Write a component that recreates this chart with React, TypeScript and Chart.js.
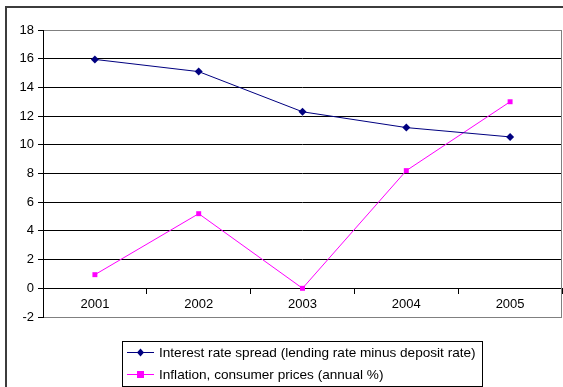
import React, { useEffect, useRef } from "react";
import { Chart, registerables } from "chart.js";

Chart.register(...registerables);

const years = ["2001", "2002", "2003", "2004", "2005"];
const spreadValues = [15.95, 15.1, 12.3, 11.2, 10.55];
const inflationValues = [0.95, 5.2, 0.0, 8.2, 13.0];
const seriesNames = [
  "Interest rate spread (lending rate minus deposit rate)",
  "Inflation, consumer prices (annual %)",
];
const yMin = -2;
const yMax = 18;
const yStep = 2;

const FONT = "Arial, 'Liberation Sans', sans-serif";

const framePlugin = {
  id: "frame",
  beforeDraw(chart: any) {
    const ctx = chart.ctx;
    ctx.save();
    ctx.fillStyle = "#fff";
    ctx.fillRect(0, 0, chart.width, chart.height);
    ctx.strokeStyle = "#3c3c3c";
    ctx.lineWidth = 2;
    ctx.beginPath();
    ctx.moveTo(6, 388);
    ctx.lineTo(6, 7);
    ctx.lineTo(chart.width + 2, 7);
    ctx.stroke();
    ctx.restore();
  },
  afterDraw(chart: any) {
    const ctx = chart.ctx;
    const a = chart.chartArea;
    ctx.save();
    ctx.strokeStyle = "#808080";
    ctx.lineWidth = 1;
    ctx.beginPath();
    ctx.moveTo(a.left, Math.round(a.top) + 0.5);
    ctx.lineTo(Math.round(a.right) - 0.5, Math.round(a.top) + 0.5);
    ctx.lineTo(Math.round(a.right) - 0.5, Math.round(a.bottom) + 0.5);
    ctx.lineTo(a.left, Math.round(a.bottom) + 0.5);
    ctx.stroke();
    ctx.strokeStyle = "#000";
    ctx.beginPath();
    ctx.moveTo(Math.round(a.left) + 0.5, a.top);
    ctx.lineTo(Math.round(a.left) + 0.5, a.bottom + 1);
    ctx.stroke();

    const lx = 122, ly = 341, lw = 360, lh = 45;
    ctx.strokeStyle = "#000";
    ctx.strokeRect(lx + 0.5, ly + 0.5, lw, lh);
    const rows = [
      { y: 352, color: "#000080", style: "rectRot" },
      { y: 374, color: "#FF00FF", style: "rect" },
    ];
    ctx.font = `13.6px ${FONT}`;
    ctx.textBaseline = "middle";
    ctx.textAlign = "left";
    rows.forEach((r, i) => {
      ctx.strokeStyle = r.color;
      ctx.lineWidth = 1;
      ctx.beginPath();
      ctx.moveTo(127, r.y + 0.5);
      ctx.lineTo(154, r.y + 0.5);
      ctx.stroke();
      ctx.fillStyle = r.color;
      if (r.style === "rect") {
        ctx.fillRect(137, r.y - 3, 7, 7);
      } else {
        ctx.beginPath();
        ctx.moveTo(140.5, r.y - 3.5);
        ctx.lineTo(144, r.y + 0.5);
        ctx.lineTo(140.5, r.y + 4.5);
        ctx.lineTo(137, r.y + 0.5);
        ctx.closePath();
        ctx.fill();
      }
      ctx.fillStyle = "#000";
      ctx.fillText(seriesNames[i], 159, r.y + 1);
    });
    ctx.restore();
  },
};

export default function App() {
  const ref = useRef<HTMLCanvasElement | null>(null);
  useEffect(() => {
    if (!ref.current) return;
    const chart = new Chart(ref.current, {
      type: "line",
      data: {
        labels: years,
        datasets: [
          {
            label: seriesNames[0],
            data: spreadValues,
            borderColor: "#000080",
            backgroundColor: "#000080",
            borderWidth: 1,
            pointStyle: "rectRot",
            pointRadius: 4,
            pointBorderWidth: 0,
            tension: 0,
          },
          {
            label: seriesNames[1],
            data: inflationValues,
            borderColor: "#FF00FF",
            backgroundColor: "#FF00FF",
            borderWidth: 1,
            pointStyle: "rect",
            pointRadius: 3.5,
            pointBorderWidth: 0,
            tension: 0,
          },
        ],
      },
      options: {
        responsive: false,
        animation: false,
        layout: { autoPadding: false, padding: { left: 0, top: 30, right: 1, bottom: 70 } },
        plugins: {
          legend: { display: false },
          tooltip: { enabled: false },
          title: { display: false },
        },
        scales: {
          x: {
            type: "category",
            position: { y: 0 } as any,
            offset: true,
            afterFit: (s: any) => {
              s.paddingLeft = 0;
              s.paddingRight = 0;
            },
            grid: {
              offset: true,
              drawOnChartArea: false,
              drawTicks: true,
              tickLength: 5,
              tickColor: "#000",
            },
            border: { display: true, color: "#000", width: 1 },
            ticks: {
              color: "#000",
              font: { family: FONT, size: 13 },
              padding: 3,
              maxRotation: 0,
            },
          },
          y: {
            min: yMin,
            max: yMax,
            afterFit: (s: any) => {
              s.width = 43;
              s.paddingTop = 0;
              s.paddingBottom = 0;
            },
            ticks: {
              stepSize: yStep,
              color: "#000",
              font: { family: FONT, size: 13 },
              padding: 4,
            },
            grid: {
              color: (c: any) =>
                c.tick && (c.tick.value === yMax || c.tick.value === yMin)
                  ? "#808080"
                  : "#000",
              tickColor: "#000",
              tickLength: 5,
              drawTicks: true,
            },
            border: { display: false },
          },
        },
      },
      plugins: [framePlugin],
    });
    return () => chart.destroy();
  }, []);
  return (
    <div style={{ position: "fixed", left: 0, top: 0, width: 563, height: 387 }}>
      <canvas ref={ref} width={563} height={387} style={{ width: 563, height: 387 }} />
    </div>
  );
}
